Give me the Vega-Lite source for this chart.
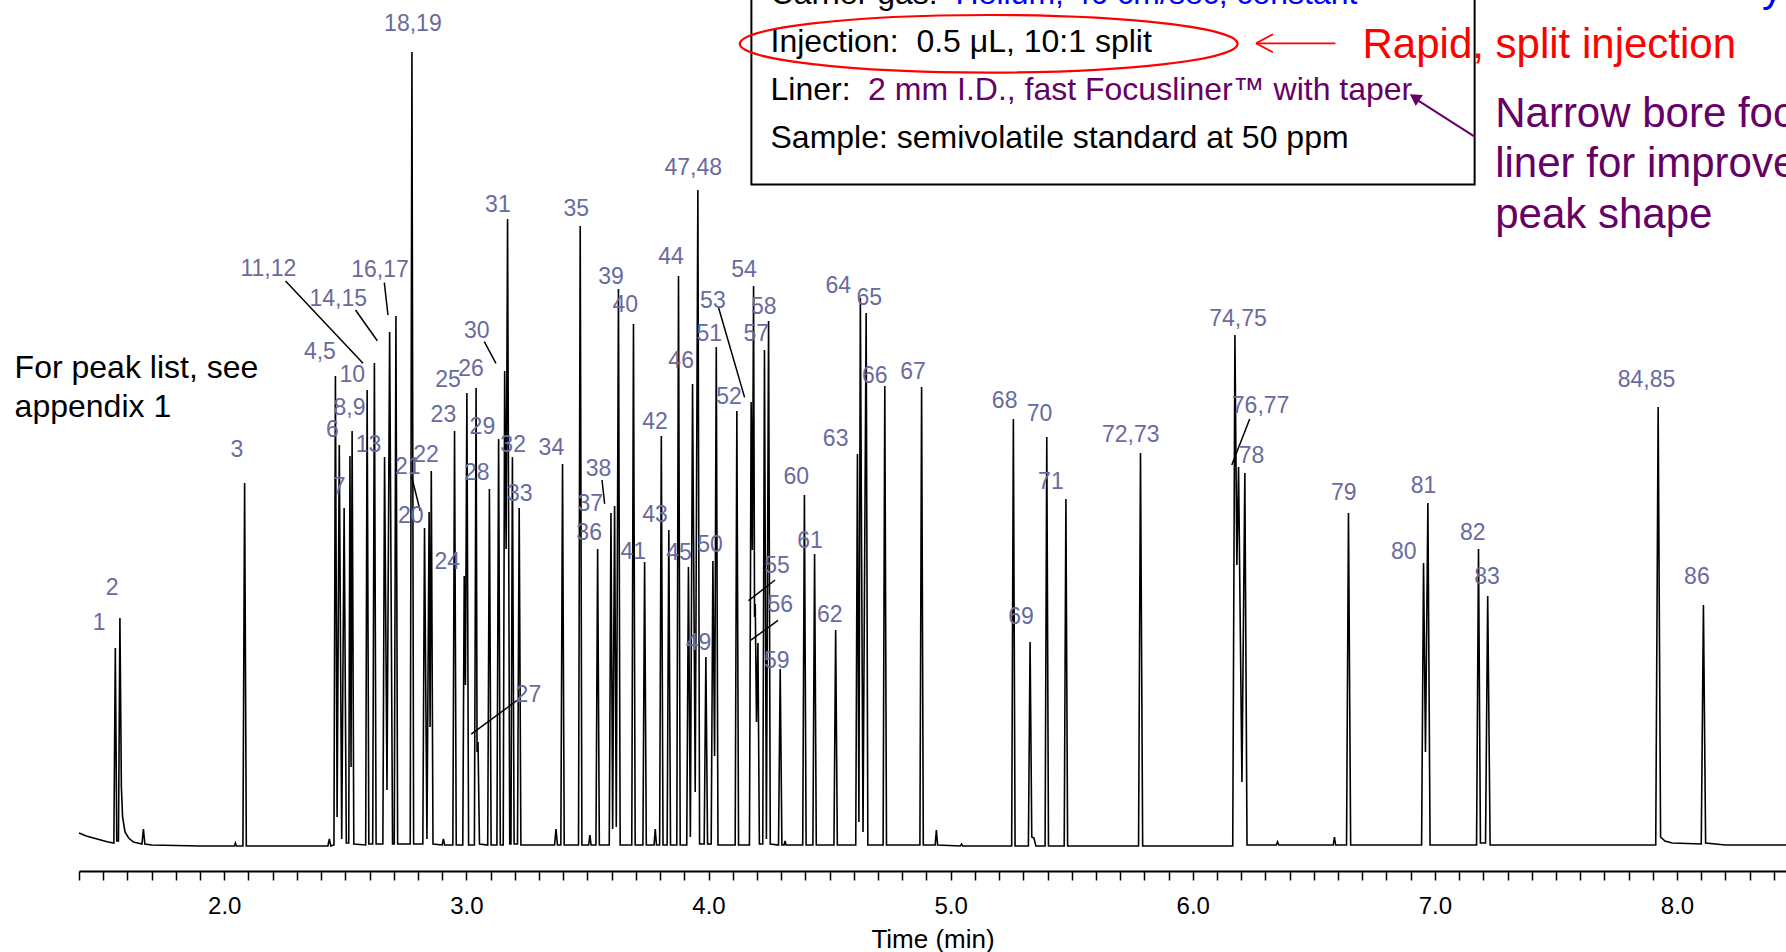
{
  "$schema": "https://vega.github.io/schema/vega-lite/v6.json",
  "width": 1707,
  "height": 871,
  "autosize": {"type": "none"},
  "padding": {"left": 79, "top": 0, "right": 0, "bottom": 81},
  "background": "white",
  "config": {"view": {"stroke": null}, "font": "Liberation Sans"},
  "encoding": {
    "x": {
      "field": "t", "type": "quantitative",
      "scale": {"domain": [1.4, 8.45], "nice": false, "zero": false},
      "axis": {
        "values": [1.4,1.5,1.6,1.7,1.8,1.9,2.0,2.1,2.2,2.3,2.4,2.5,2.6,2.7,2.8,2.9,3.0,3.1,3.2,3.3,3.4,3.5,3.6,3.7,3.8,3.9,4.0,4.1,4.2,4.3,4.4,4.5,4.6,4.7,4.8,4.9,5.0,5.1,5.2,5.3,5.4,5.5,5.6,5.7,5.8,5.9,6.0,6.1,6.2,6.3,6.4,6.5,6.6,6.7,6.8,6.9,7.0,7.1,7.2,7.3,7.4,7.5,7.6,7.7,7.8,7.9,8.0,8.1,8.2,8.3,8.4],
        "labelExpr": "abs(datum.value - round(datum.value)) < 0.001 ? format(datum.value, '.1f') : ''",
        "labelOverlap": false, "labelFlush": false,
        "grid": false,
        "tickSize": 9, "tickWidth": 1.5, "tickColor": "black",
        "domainColor": "black", "domainWidth": 2,
        "labelFont": "Liberation Sans", "labelFontSize": 24, "labelColor": "black",
        "labelBaseline": "alphabetic", "labelPadding": 33,
        "title": "Time (min)", "titleFont": "Liberation Sans", "titleFontSize": 26,
        "titleFontWeight": "normal", "titleColor": "black",
        "titleBaseline": "alphabetic", "titleY": 76
      }
    },
    "y": {
      "field": "y", "type": "quantitative",
      "scale": {"domain": [-24, 847], "nice": false, "zero": false},
      "axis": null
    }
  },
  "layer": [
    {
      "data": {"values": [{"t": 4.177, "t2": 7.164, "y": 662.5, "y2": 880}]},
      "mark": {"type": "rect", "fill": "white", "stroke": "black", "strokeWidth": 2},
      "encoding": {"x2": {"field": "t2"}, "y2": {"field": "y2"}}
    },
    {
      "data": {"values": [
        {"t":1.400,"y":14},{"t":1.430,"y":11},{"t":1.460,"y":9},{"t":1.490,"y":7},{"t":1.520,"y":5},{"t":1.544,"y":4},
        {"t":1.550,"y":199},{"t":1.556,"y":6},{"t":1.563,"y":6},{"t":1.569,"y":229},{"t":1.575,"y":60},{"t":1.580,"y":30},
        {"t":1.590,"y":15},{"t":1.605,"y":9},{"t":1.625,"y":5},{"t":1.660,"y":3},{"t":1.666,"y":18},{"t":1.672,"y":3},
        {"t":1.700,"y":2},{"t":1.900,"y":1},{"t":2.042,"y":1},{"t":2.046,"y":4},{"t":2.050,"y":1},
        {"t":2.077,"y":1},{"t":2.084,"y":364},{"t":2.091,"y":1},
        {"t":2.428,"y":1},{"t":2.434,"y":8},{"t":2.440,"y":1},
        {"t":2.453,"y":2},{"t":2.459,"y":471},{"t":2.466,"y":30},{"t":2.475,"y":402},{"t":2.485,"y":8},
        {"t":2.495,"y":339},{"t":2.504,"y":4},{"t":2.514,"y":4},{"t":2.519,"y":391},{"t":2.5235,"y":80},{"t":2.528,"y":416},{"t":2.535,"y":3},
        {"t":2.584,"y":2},{"t":2.590,"y":457},{"t":2.597,"y":3},{"t":2.613,"y":3},{"t":2.620,"y":484},{"t":2.627,"y":3},
        {"t":2.655,"y":3},{"t":2.662,"y":390},{"t":2.672,"y":57},{"t":2.683,"y":515},{"t":2.695,"y":3},
        {"t":2.702,"y":3},{"t":2.709,"y":531},{"t":2.716,"y":3},
        {"t":2.768,"y":3},{"t":2.775,"y":795},{"t":2.782,"y":3},
        {"t":2.820,"y":3},{"t":2.827,"y":319},{"t":2.837,"y":8},{"t":2.846,"y":335},{"t":2.850,"y":120},{"t":2.855,"y":376},{"t":2.862,"y":3},
        {"t":2.900,"y":2},{"t":2.905,"y":8},{"t":2.910,"y":2},
        {"t":2.944,"y":2},{"t":2.951,"y":416},{"t":2.958,"y":2},
        {"t":2.985,"y":2},{"t":2.991,"y":271},{"t":2.996,"y":162},{"t":3.002,"y":454},{"t":3.009,"y":2},
        {"t":3.033,"y":2},{"t":3.040,"y":459},{"t":3.044,"y":95},{"t":3.048,"y":105},{"t":3.054,"y":3},
        {"t":3.088,"y":2},{"t":3.095,"y":358},{"t":3.102,"y":2},
        {"t":3.126,"y":2},{"t":3.133,"y":408},{"t":3.140,"y":2},
        {"t":3.152,"y":2},{"t":3.158,"y":476},{"t":3.164,"y":298},{"t":3.170,"y":628},{"t":3.179,"y":3},
        {"t":3.184,"y":3},{"t":3.190,"y":390},{"t":3.197,"y":3},
        {"t":3.211,"y":3},{"t":3.218,"y":339},{"t":3.225,"y":2},
        {"t":3.364,"y":2},{"t":3.370,"y":18},{"t":3.376,"y":2},
        {"t":3.390,"y":2},{"t":3.397,"y":383},{"t":3.404,"y":2},
        {"t":3.463,"y":2},{"t":3.470,"y":621},{"t":3.477,"y":2},
        {"t":3.505,"y":2},{"t":3.510,"y":12},{"t":3.515,"y":2},
        {"t":3.535,"y":2},{"t":3.542,"y":298},{"t":3.549,"y":2},
        {"t":3.590,"y":2},{"t":3.597,"y":334},{"t":3.604,"y":18},{"t":3.612,"y":341},{"t":3.619,"y":20},{"t":3.628,"y":558},{"t":3.635,"y":2},
        {"t":3.683,"y":2},{"t":3.690,"y":523},{"t":3.697,"y":2},
        {"t":3.729,"y":2},{"t":3.736,"y":285},{"t":3.743,"y":2},
        {"t":3.775,"y":2},{"t":3.780,"y":18},{"t":3.785,"y":2},
        {"t":3.798,"y":2},{"t":3.805,"y":411},{"t":3.812,"y":2},
        {"t":3.829,"y":2},{"t":3.836,"y":317},{"t":3.843,"y":2},
        {"t":3.869,"y":2},{"t":3.876,"y":571},{"t":3.883,"y":2},
        {"t":3.910,"y":2},{"t":3.917,"y":280},{"t":3.925,"y":10},{"t":3.934,"y":463},{"t":3.945,"y":55},{"t":3.956,"y":657},{"t":3.963,"y":3},
        {"t":3.982,"y":3},{"t":3.989,"y":190},{"t":3.996,"y":3},
        {"t":4.011,"y":3},{"t":4.018,"y":286},{"t":4.025,"y":91},{"t":4.032,"y":500},{"t":4.039,"y":2},
        {"t":4.110,"y":2},{"t":4.117,"y":436},{"t":4.124,"y":2},
        {"t":4.169,"y":2},{"t":4.176,"y":445},{"t":4.181,"y":297},{"t":4.186,"y":561},{"t":4.190,"y":230},{"t":4.193,"y":243},{"t":4.198,"y":125},{"t":4.204,"y":204},{"t":4.210,"y":3},
        {"t":4.224,"y":3},{"t":4.231,"y":497},{"t":4.239,"y":8},{"t":4.248,"y":526},{"t":4.255,"y":3},
        {"t":4.289,"y":2},{"t":4.296,"y":178},{"t":4.303,"y":2},
        {"t":4.312,"y":2},{"t":4.316,"y":6},{"t":4.320,"y":2},
        {"t":4.389,"y":2},{"t":4.396,"y":352},{"t":4.403,"y":2},
        {"t":4.431,"y":2},{"t":4.438,"y":293},{"t":4.445,"y":2},
        {"t":4.518,"y":2},{"t":4.525,"y":217},{"t":4.532,"y":2},
        {"t":4.608,"y":2},{"t":4.615,"y":393},{"t":4.621,"y":25},{"t":4.627,"y":549},{"t":4.638,"y":15},{"t":4.651,"y":534},{"t":4.658,"y":2},
        {"t":4.721,"y":2},{"t":4.728,"y":461},{"t":4.735,"y":2},
        {"t":4.873,"y":2},{"t":4.880,"y":460},{"t":4.887,"y":2},
        {"t":4.936,"y":2},{"t":4.941,"y":17},{"t":4.946,"y":2},
        {"t":5.040,"y":1},{"t":5.045,"y":3},{"t":5.050,"y":1},
        {"t":5.252,"y":1},{"t":5.259,"y":428},{"t":5.266,"y":1},
        {"t":5.321,"y":1},{"t":5.328,"y":205},{"t":5.335,"y":10},{"t":5.344,"y":9},{"t":5.352,"y":1},
        {"t":5.390,"y":1},{"t":5.397,"y":410},{"t":5.404,"y":1},
        {"t":5.469,"y":1},{"t":5.476,"y":348},{"t":5.483,"y":1},
        {"t":5.776,"y":1},{"t":5.784,"y":394},{"t":5.793,"y":1},
        {"t":6.165,"y":1},{"t":6.174,"y":512},{"t":6.182,"y":282},{"t":6.189,"y":380},{"t":6.203,"y":65},{"t":6.215,"y":374},{"t":6.224,"y":2},
        {"t":6.345,"y":2},{"t":6.350,"y":5},{"t":6.355,"y":2},
        {"t":6.580,"y":2},{"t":6.585,"y":10},{"t":6.590,"y":2},
        {"t":6.635,"y":2},{"t":6.643,"y":334},{"t":6.652,"y":2},
        {"t":6.945,"y":2},{"t":6.953,"y":284},{"t":6.961,"y":95},{"t":6.971,"y":344},{"t":6.980,"y":2},
        {"t":7.172,"y":2},{"t":7.180,"y":298},{"t":7.188,"y":4},{"t":7.198,"y":4},{"t":7.209,"y":4},{"t":7.218,"y":251},{"t":7.228,"y":2},
        {"t":7.912,"y":2},{"t":7.922,"y":440},{"t":7.932,"y":10},{"t":7.950,"y":6},{"t":7.980,"y":4},
        {"t":8.100,"y":3},{"t":8.109,"y":242},{"t":8.118,"y":4},{"t":8.200,"y":2},{"t":8.450,"y":2}
      ]},
      "mark": {"type": "line", "color": "black", "strokeWidth": 1.6, "interpolate": "linear"}
    },
    {
      "data": {"values": [
        {"t":2.253,"y":566,"t2":2.573,"y2":483.7},
        {"t":2.542,"y":537,"t2":2.632,"y2":506.3},
        {"t":2.661,"y":564.3,"t2":2.676,"y2":532},
        {"t":2.774,"y":370.3,"t2":2.809,"y2":336.3},
        {"t":3.020,"y":112.8,"t2":3.209,"y2":146.6},
        {"t":3.074,"y":505.3,"t2":3.122,"y2":483.7},
        {"t":3.560,"y":367,"t2":3.571,"y2":343.2},
        {"t":4.041,"y":539.8,"t2":4.149,"y2":449.6},
        {"t":4.165,"y":246.4,"t2":4.275,"y2":267},
        {"t":4.175,"y":206.8,"t2":4.287,"y2":226.6},
        {"t":6.235,"y":428,"t2":6.161,"y2":382}
      ]},
      "mark": {"type": "rule", "color": "black", "strokeWidth": 1.5},
      "encoding": {"x2": {"field": "t2"}, "y2": {"field": "y2"}}
    },
    {
      "data": {"values": [
        {"t":1.483,"y":223.7,"label":"1"},{"t":1.537,"y":258.7,"label":"2"},{"t":2.052,"y":397,"label":"3"},
        {"t":2.395,"y":494.7,"label":"4,5"},{"t":2.447,"y":417,"label":"6"},{"t":2.474,"y":360.3,"label":"7"},
        {"t":2.517,"y":438.7,"label":"8,9"},{"t":2.529,"y":472,"label":"10"},{"t":2.182,"y":577.7,"label":"11,12"},
        {"t":2.596,"y":402,"label":"13"},{"t":2.471,"y":547.7,"label":"14,15"},{"t":2.643,"y":577,"label":"16,17"},
        {"t":2.779,"y":823,"label":"18,19"},{"t":2.770,"y":331.3,"label":"20"},{"t":2.758,"y":380.3,"label":"21"},
        {"t":2.833,"y":392,"label":"22"},{"t":2.905,"y":432,"label":"23"},{"t":2.921,"y":285.3,"label":"24"},
        {"t":2.924,"y":467,"label":"25"},{"t":3.019,"y":477.7,"label":"26"},{"t":3.256,"y":152,"label":"27"},
        {"t":3.043,"y":373.7,"label":"28"},{"t":3.066,"y":420.3,"label":"29"},{"t":3.043,"y":516,"label":"30"},
        {"t":3.130,"y":642,"label":"31"},{"t":3.193,"y":402,"label":"32"},{"t":3.220,"y":353,"label":"33"},
        {"t":3.351,"y":398.7,"label":"34"},{"t":3.454,"y":638,"label":"35"},{"t":3.507,"y":314.2,"label":"36"},
        {"t":3.512,"y":343.2,"label":"37"},{"t":3.546,"y":378.1,"label":"38"},{"t":3.597,"y":570,"label":"39"},
        {"t":3.656,"y":542,"label":"40"},{"t":3.689,"y":294.8,"label":"41"},{"t":3.779,"y":425,"label":"42"},
        {"t":3.779,"y":332.5,"label":"43"},{"t":3.845,"y":589.7,"label":"44"},{"t":3.878,"y":294,"label":"45"},
        {"t":3.887,"y":486,"label":"46"},{"t":3.937,"y":678.7,"label":"47,48"},{"t":3.959,"y":203.7,"label":"49"},
        {"t":4.006,"y":302,"label":"50"},{"t":4.003,"y":513,"label":"51"},{"t":4.085,"y":450.3,"label":"52"},
        {"t":4.018,"y":546.4,"label":"53"},{"t":4.147,"y":576.6,"label":"54"},{"t":4.283,"y":281.5,"label":"55"},
        {"t":4.296,"y":242,"label":"56"},{"t":4.197,"y":513,"label":"57"},{"t":4.228,"y":540,"label":"58"},
        {"t":4.282,"y":186,"label":"59"},{"t":4.362,"y":370,"label":"60"},{"t":4.419,"y":306.3,"label":"61"},
        {"t":4.501,"y":232,"label":"62"},{"t":4.525,"y":408,"label":"63"},{"t":4.536,"y":561,"label":"64"},
        {"t":4.664,"y":549.3,"label":"65"},{"t":4.687,"y":471,"label":"66"},{"t":4.845,"y":475.3,"label":"67"},
        {"t":5.223,"y":446,"label":"68"},{"t":5.291,"y":229.7,"label":"69"},{"t":5.367,"y":433,"label":"70"},
        {"t":5.414,"y":365.3,"label":"71"},{"t":5.744,"y":412,"label":"72,73"},{"t":6.187,"y":528,"label":"74,75"},
        {"t":6.280,"y":441,"label":"76,77"},{"t":6.243,"y":391,"label":"78"},{"t":6.624,"y":354.3,"label":"79"},
        {"t":6.871,"y":295.3,"label":"80"},{"t":6.953,"y":361,"label":"81"},{"t":7.156,"y":314.3,"label":"82"},
        {"t":7.215,"y":269.7,"label":"83"},{"t":7.874,"y":467,"label":"84,85"},{"t":8.082,"y":269.7,"label":"86"}
      ]},
      "mark": {"type": "text", "align": "center", "baseline": "middle", "fontSize": 23, "font": "Liberation Sans", "color": "#686b9e"},
      "encoding": {"text": {"field": "label"}}
    },
    {
      "data": {"values": [
        {"t":4.256,"y":843,"text":"Carrier gas:"},
        {"t":4.256,"y":795,"text":"Injection: \u00a00.5 μL, 10:1 split"},
        {"t":4.256,"y":747,"text":"Liner:"},
        {"t":4.256,"y":699,"text":"Sample: semivolatile standard at 50 ppm"},
        {"t":1.134,"y":468.7,"text":"For peak list, see"},
        {"t":1.134,"y":430.5,"text":"appendix 1"}
      ]},
      "mark": {"type": "text", "align": "left", "baseline": "alphabetic", "fontSize": 32, "font": "Liberation Sans", "color": "black"},
      "encoding": {"text": {"field": "text"}}
    },
    {
      "data": {"values": [{"t":5.02,"y":843,"text":"Helium, 40 cm/sec, constant"}]},
      "mark": {"type": "text", "align": "left", "baseline": "alphabetic", "fontSize": 32, "font": "Liberation Sans", "color": "#0000ff"},
      "encoding": {"text": {"field": "text"}}
    },
    {
      "data": {"values": [{"t":8.351,"y":846,"text":"y"}]},
      "mark": {"type": "text", "align": "left", "baseline": "alphabetic", "fontSize": 42, "font": "Liberation Sans", "color": "#0000ff"},
      "encoding": {"text": {"field": "text"}}
    },
    {
      "data": {"values": [{"t":4.659,"y":747,"text":"2 mm I.D., fast Focusliner™ with taper"}]},
      "mark": {"type": "text", "align": "left", "baseline": "alphabetic", "fontSize": 32, "font": "Liberation Sans", "color": "#660066"},
      "encoding": {"text": {"field": "text"}}
    },
    {
      "data": {"values": [{"t":6.701,"y":788.7,"text":"Rapid, split injection"}]},
      "mark": {"type": "text", "align": "left", "baseline": "alphabetic", "fontSize": 42, "font": "Liberation Sans", "color": "#ff0000"},
      "encoding": {"text": {"field": "text"}}
    },
    {
      "data": {"values": [
        {"t":7.249,"y":720.3,"text":"Narrow bore focus"},
        {"t":7.249,"y":670,"text":"liner for improved"},
        {"t":7.249,"y":619,"text":"peak shape"}
      ]},
      "mark": {"type": "text", "align": "left", "baseline": "alphabetic", "fontSize": 42, "font": "Liberation Sans", "color": "#660066"},
      "encoding": {"text": {"field": "text"}}
    },
    {
      "data": {"values": [{"t":5.157,"y":803.2}]},
      "mark": {"type": "point", "shape": "M -1 0 C -1 -0.0639 -0.5523 -0.1157 0 -0.1157 C 0.5523 -0.1157 1 -0.0639 1 0 C 1 0.0639 0.5523 0.1157 0 0.1157 C -0.5523 0.1157 -1 0.0639 -1 0 Z", "size": 247805, "filled": false, "stroke": "#ff0000", "strokeWidth": 2.2, "opacity": 1}
    },
    {
      "data": {"values": [
        {"t":6.261,"y":803.7,"t2":6.589,"y2":803.7},
        {"t":6.261,"y":803.7,"t2":6.331,"y2":812.7},
        {"t":6.261,"y":803.7,"t2":6.331,"y2":794.7}
      ]},
      "mark": {"type": "rule", "color": "#ff0000", "strokeWidth": 1.8},
      "encoding": {"x2": {"field": "t2"}, "y2": {"field": "y2"}}
    },
    {
      "data": {"values": [{"t":7.164,"y":710.3,"t2":6.912,"y2":749.3}]},
      "mark": {"type": "rule", "color": "#660066", "strokeWidth": 2},
      "encoding": {"x2": {"field": "t2"}, "y2": {"field": "y2"}}
    },
    {
      "data": {"values": [{"t":6.916,"y":749.6}]},
      "mark": {"type": "point", "shape": "triangle-up", "size": 170, "filled": true, "color": "#660066", "angle": 303, "opacity": 1}
    }
  ]
}
